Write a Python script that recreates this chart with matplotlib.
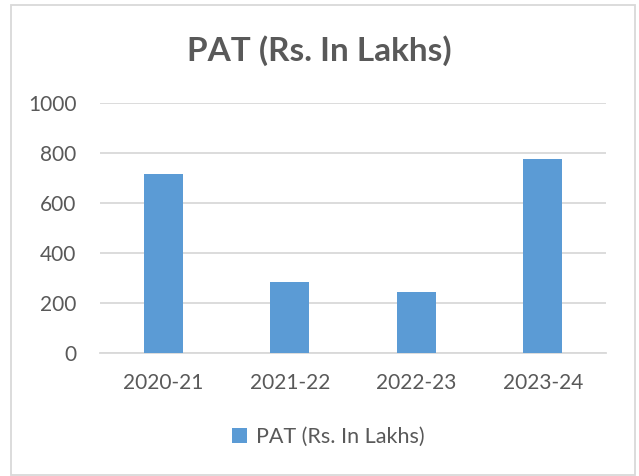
import matplotlib
matplotlib.use("Agg")
import matplotlib.pyplot as plt
from matplotlib.patches import Rectangle, Patch

categories = ["2020-21", "2021-22", "2022-23", "2023-24"]
values = [718, 285, 244, 777]
series_name = "PAT (Rs. In Lakhs)"
yticks = [0, 200, 400, 600, 800, 1000]

plt.rcParams['font.family'] = ['Lato', 'DejaVu Sans']
txt = '#595959'
grid = '#d9d9d9'
bar_color = '#5b9bd5'

W, H = 639, 476
fig = plt.figure(figsize=(W/100, H/100), dpi=100)
fig.patch.set_facecolor('white')
fig.patches.append(Rectangle((11/W, 1/H), 624/W, 470/H, transform=fig.transFigure,
                             fill=False, edgecolor=grid, linewidth=1.3))

ax = fig.add_axes([100/W, (H-353.3)/H, 506/W, 250/H])
x = list(range(len(categories)))
ax.bar(x, values, width=0.31, color=bar_color, zorder=3)
ax.set_xlim(-0.5, len(categories)-0.5)
ax.set_ylim(0, 1000)
ax.set_yticks(yticks)
ax.set_yticklabels([str(t) for t in yticks], fontsize=15, color=txt)
ax.set_xticks(x)
ax.set_xticklabels(categories, fontsize=15, color=txt)
ax.tick_params(axis='both', length=0)
ax.tick_params(axis='y', pad=17)
ax.tick_params(axis='x', pad=14)
ax.yaxis.grid(True, color=grid, linewidth=1.3, zorder=0)
ax.set_axisbelow(True)
for s in ['top', 'right', 'left']:
    ax.spines[s].set_visible(False)
ax.spines['bottom'].set_color(grid)
ax.spines['bottom'].set_linewidth(1.3)

fig.text(0.5, (H-51)/H, "PAT (Rs. In Lakhs)", ha='center', va='center',
         fontsize=24, fontweight='bold', color=txt)

fig.legend(handles=[Patch(facecolor=bar_color, label=series_name)],
           loc='center', bbox_to_anchor=(328/W, (H-437)/H), frameon=False,
           fontsize=15.5, labelcolor=txt, handlelength=0.7, handleheight=0.7,
           handletextpad=0.4)

fig.savefig("out.png", dpi=100)
